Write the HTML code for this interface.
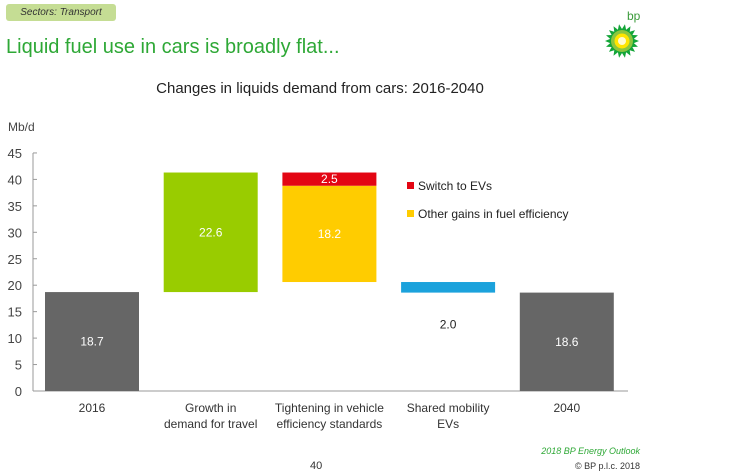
<!DOCTYPE html>
<html><head><meta charset="utf-8"><style>
body{margin:0;width:740px;height:474px;background:#fff;font-family:"Liberation Sans",sans-serif;overflow:hidden;position:relative}
.abs{position:absolute}
</style></head><body>
<div class="abs" style="left:6px;top:4px;width:110px;height:17px;background:#c5dd94;border-radius:3px;font-size:10px;font-style:italic;color:#333;line-height:17px;text-align:center">Sectors: Transport</div>
<div class="abs" style="left:6px;top:36px;font-size:20px;color:#2ea836">Liquid fuel use in cars is broadly flat...</div>
<svg class="abs" style="left:600px;top:8px" width="46" height="52" viewBox="0 0 46 52">
<text x="27" y="12" font-size="12" fill="#3a9a3a" font-family="Liberation Sans">bp</text>
<g transform="translate(22,33)" id="sun"></g></svg>
<div class="abs" style="left:0;width:640px;top:80px;text-align:center;font-size:15px;color:#222">Changes in liquids demand from cars: 2016-2040</div>
<svg class="abs" id="chart" style="left:0;top:0" width="740" height="474"></svg>
<div class="abs" style="left:500px;top:446px;width:140px;text-align:right;font-size:9px;font-style:italic;color:#2ea836;white-space:nowrap">2018 BP Energy Outlook</div>
<div class="abs" style="left:500px;top:461px;width:140px;text-align:right;font-size:9px;color:#333;white-space:nowrap">© BP p.l.c. 2018</div>
<div class="abs" style="left:310px;top:460px;font-size:11px;color:#333">40</div>
<script>
const NS="http://www.w3.org/2000/svg";
(function(){const g=document.getElementById('sun');let d='';
for(let k=0;k<36;k++){const a=k*Math.PI/18,r=k%2?12:17;d+=(k?'L':'M')+(r*Math.cos(a)).toFixed(2)+','+(r*Math.sin(a)).toFixed(2);}
const p=document.createElementNS(NS,'path');p.setAttribute('d',d+'Z');p.setAttribute('fill','#13a538');g.appendChild(p);
[[11,'#8cc63e'],[7.5,'#ffe500'],[4,'#fffbd0']].forEach(c=>{const e=document.createElementNS(NS,'circle');e.setAttribute('r',c[0]);e.setAttribute('fill',c[1]);g.appendChild(e);});})();
const categories=[["2016"],["Growth in","demand for travel"],["Tightening in vehicle","efficiency standards"],["Shared mobility","EVs"],["2040"]];
const bases=[0,18.7,20.6,18.6,0];
const mainVals=[18.7,22.6,18.2,2.0,18.6];
const evVals=[0,0,2.5,0,0];
const yTicks=[0,5,10,15,20,25,30,35,40,45];
const svg=document.getElementById('chart');
const y0=391,pxu=5.29,x0=45,step=118.7,bw=94;
const Y=v=>y0-v*pxu, X=i=>x0+i*step;
function el(t,a,p){const e=document.createElementNS(NS,t);for(const k in a)e.setAttribute(k,a[k]);(p||svg).appendChild(e);return e;}
let t=el('text',{x:8,y:131,'font-size':12,fill:'#444'});t.textContent='Mb/d';

let ax=el('line',{x1:33,y1:Y(45),x2:33,y2:y0,stroke:'#999'});

let bx=el('line',{x1:33,y1:y0,x2:628,y2:y0,stroke:'#999'});

yTicks.forEach(v=>{
 el('line',{x1:33,x2:37,y1:Y(v),y2:Y(v),stroke:'#999'});
 const l=el('text',{x:22,y:Y(v)+5,'text-anchor':'end','font-size':13,fill:'#444'});l.textContent=v;
 
});
const colors=['#666666','#99cc00','#ffcc00','#1ba2dc','#666666'];
categories.forEach((c,i)=>{
 const x=X(i),b=bases[i],v=mainVals[i];
 const r=el('rect',{x:x,y:Y(b+v),width:bw,height:v*pxu,fill:colors[i]});
 
 const lab=el('text',{'text-anchor':'middle','font-size':12,x:x+bw/2});
 if(i==3){lab.setAttribute('y',Y(b)+36);lab.setAttribute('fill','#222');}
 else{lab.setAttribute('y',Y(b+v/2)+4);lab.setAttribute('fill','#fff');}
 lab.textContent=v.toFixed(1);
 
 if(evVals[i]>0){
  const e=evVals[i];
  const rr=el('rect',{x:x,y:Y(b+v+e),width:bw,height:e*pxu,fill:'#e30613'});
  
  const el2=el('text',{x:x+bw/2,y:Y(b+v+e/2)+4,'text-anchor':'middle','font-size':12,fill:'#fff'});el2.textContent=e.toFixed(1);
  
 }
 c.forEach((line,j)=>{
  const tl=el('text',{x:x+bw/2,y:412+j*16,'text-anchor':'middle','font-size':12,fill:'#333'});tl.textContent=line;
  
 });
});
[['#e30613','Switch to EVs',186],['#ffcc00','Other gains in fuel efficiency',214]].forEach(l=>{
 const s=el('rect',{x:407,y:l[2]-4,width:7,height:7,fill:l[0]});
 
 const tx=el('text',{x:418,y:l[2]+4,'font-size':12,fill:'#222'});tx.textContent=l[1];
 
});
</script>
</body></html>
